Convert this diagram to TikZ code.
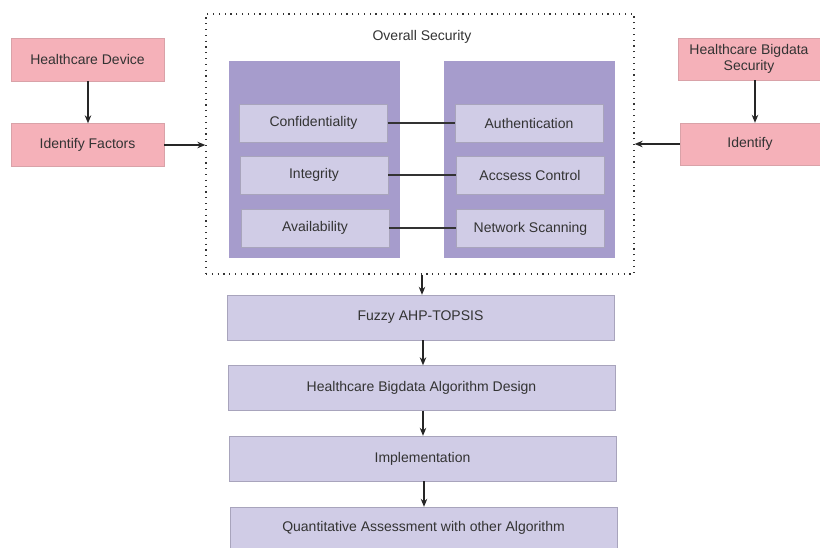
\documentclass[tikz,border=0pt]{standalone}
\usepackage{fontspec}
\setmainfont{Liberation Sans}
\usetikzlibrary{arrows.meta}

\definecolor{pinkfill}{HTML}{F5B1B9}
\definecolor{pinkline}{HTML}{D9A2A8}
\definecolor{panelfill}{HTML}{A69CCC}
\definecolor{itemfill}{HTML}{D0CCE6}
\definecolor{itemline}{HTML}{A8A4BC}
\definecolor{txt}{HTML}{333333}

\tikzset{
    pinkbox/.style={draw=pinkline, fill=pinkfill, text=txt, align=center,
        font=\fontsize{14}{15.5}\selectfont},
    panel/.style={fill=panelfill, minimum width=171pt, minimum height=197pt},
    item/.style={draw=itemline, fill=itemfill, text=txt,
        minimum width=148pt, minimum height=38pt, font=\fontsize{14}{15.5}\selectfont},
    stage/.style={draw=itemline, fill=itemfill, text=txt,
        minimum width=387pt, minimum height=45pt, font=\fontsize{14}{15.5}\selectfont},
    arr/.style={-{Stealth[length=8pt,width=6.5pt]}, draw=black!85, line width=1.2pt},
    link/.style={draw=black!80, line width=1.2pt}
}

\begin{document}
\begin{tikzpicture}[x=1pt, y=-1pt]
    \useasboundingbox (0,0) rectangle (820,547);

    % Left side
    \node[pinkbox, minimum width=153pt, minimum height=43pt] (device) at (87.5,59.5) {Healthcare Device};
    \node[pinkbox, minimum width=153pt, minimum height=43pt] (factors) at (87.5,145) {Identify Factors};

    % Right side
    \node[pinkbox, minimum width=142pt, minimum height=42pt] (bigsec) at (749,59) {Healthcare Bigdata\\Security};
    \node[pinkbox, minimum width=140pt, minimum height=42pt] (identify) at (750,144) {Identify};

    % Overall security box
    \node[draw=black!80, line width=1.3pt, dash pattern=on 1.2pt off 4.6pt,
        minimum width=428pt, minimum height=260pt] (overall) at (420,144) {};
    \node[text=txt, font=\fontsize{14}{15.5}\selectfont] (title) at (422,37) {Overall Security};

    % Panels
    \node[panel] (leftpanel) at (314,159.5) {};
    \node[panel] (rightpanel) at (529.5,159.5) {};

    % Panel entries
    \node[item] (conf) at (313.5,123) {Confidentiality};
    \node[item] (integ) at (314,175) {Integrity};
    \node[item] (avail) at (315,228) {Availability};
    \node[item] (auth) at (529,123) {Authentication};
    \node[item] (access) at (530,175) {Accsess Control};
    \node[item] (scan) at (530.5,228.5) {Network Scanning};

    \draw[link] (conf.east) -- (auth.west);
    \draw[link] (integ.east) -- (integ.east -| access.west);
    \draw[link] (avail.east) -- (avail.east -| scan.west);

    % Stages
    \node[stage] (fuzzy) at (420.5,317.5) {Fuzzy AHP-TOPSIS};
    \node[stage] (design) at (421.5,388) {Healthcare Bigdata Algorithm Design};
    \node[stage] (impl) at (422.5,458.5) {Implementation};
    \node[stage, minimum height=42pt] (quant) at (423.5,528) {Quantitative Assessment with other Algorithm};

    % Arrows
    \draw[arr] (88,0 |- device.south) -- (88,0 |- factors.north);
    \draw[arr] (factors.east) -- (factors.east -| overall.west);
    \draw[arr] (755,0 |- bigsec.south) -- (755,0 |- identify.north);
    \draw[arr] (identify.west) -- (identify.west -| overall.east);
    \draw[arr] (422,0 |- overall.south) -- (422,0 |- fuzzy.north);
    \draw[arr] (423,0 |- fuzzy.south) -- (423,0 |- design.north);
    \draw[arr] (423,0 |- design.south) -- (423,0 |- impl.north);
    \draw[arr] (424,0 |- impl.south) -- (424,0 |- quant.north);
\end{tikzpicture}
\end{document}
